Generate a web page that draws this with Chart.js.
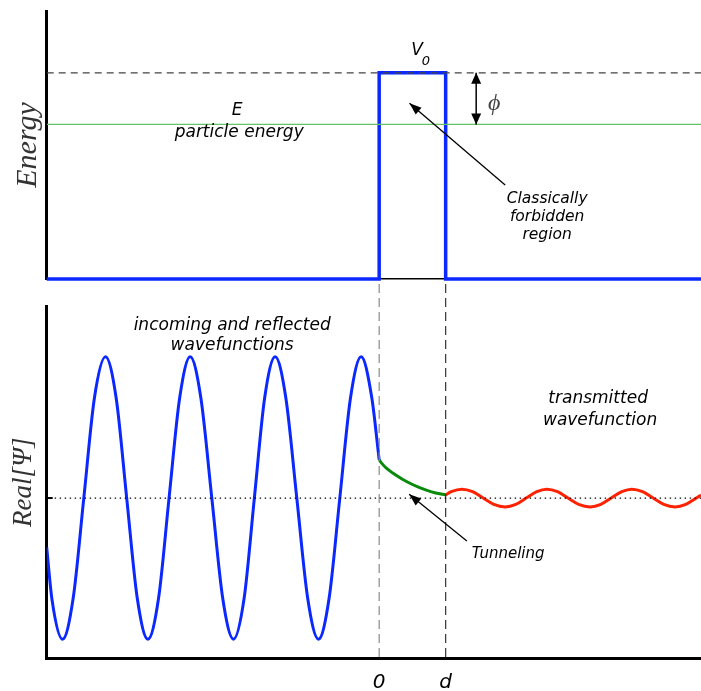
<!DOCTYPE html>
<html><head><meta charset="utf-8">
<script src="https://cdn.jsdelivr.net/npm/chart.js@4"></script>
<style>
html,body{margin:0;padding:0;background:#fff;width:701px;height:691px;overflow:hidden}
canvas{position:absolute;left:0}
#top{top:0}
#bot{top:282px}
</style></head><body>
<canvas id="top" width="701" height="282"></canvas>
<canvas id="bot" width="701" height="409"></canvas>
<script>
// ---------------- data ----------------
const xMin = -5, xMax = 4.84;
const barrierEdges = [0, 1];          // x = 0 and x = d
const tickLabels = ['0', 'd'];
const V0 = 1.0;                       // barrier height
const particleE = 0.75;               // particle energy
const potentialX = [-5, 0, 0, 1, 1, 4.84];
const potentialY = [0, 0, 1, 1, 0, 0];
const incomingX = [-5.0, -4.92, -4.762, -4.602, -4.442, -4.282, -4.116, -3.956, -3.797, -3.638, -3.478, -3.318, -3.160, -3.000, -2.842, -2.682, -2.517, -2.353, -2.191, -2.031, -1.877, -1.722, -1.564, -1.404, -1.239, -1.075, -0.913, -0.753, -0.592, -0.431, -0.271, -0.111, 0.0];
const incomingY = [-0.35, -0.72, -1.0, -0.71, 0.0, 0.71, 1.0, 0.71, 0.0, -0.71, -1.0, -0.71, 0.0, 0.71, 1.0, 0.71, 0.0, -0.71, -1.0, -0.71, 0.0, 0.71, 1.0, 0.71, 0.0, -0.71, -1.0, -0.71, 0.0, 0.71, 1.0, 0.71, 0.27];
const tunnelX = [0, 0.05, 0.1, 0.21, 0.35, 0.47, 0.6, 0.72, 0.85, 1.0];
const tunnelY = [0.27, 0.24, 0.215, 0.175, 0.133, 0.103, 0.075, 0.054, 0.036, 0.022];
const transX = [1.0, 1.084, 1.244, 1.404, 1.564, 1.724, 1.895, 2.055, 2.21, 2.37, 2.522, 2.682, 2.84, 3.0, 3.173, 3.333, 3.49, 3.65, 3.80, 3.96, 4.12, 4.28, 4.451, 4.611, 4.77, 4.84];
const transY = [0.022, 0.045, 0.063, 0.045, 0, -0.045, -0.063, -0.045, 0, 0.045, 0.063, 0.045, 0, -0.045, -0.063, -0.045, 0, 0.045, 0.063, 0.045, 0, -0.045, -0.063, -0.045, 0, 0.022];

// ---------------- helpers ----------------
const pts = (xs, ys) => xs.map((x, i) => ({x, y: ys[i]}));
const SANS = '"DejaVu Sans", sans-serif';
const SERIF = '"Liberation Serif", serif';

function arrowHead(ctx, fx, fy, tx, ty, L, W) {
  const a = Math.atan2(ty - fy, tx - fx);
  ctx.beginPath();
  ctx.moveTo(tx, ty);
  ctx.lineTo(tx - L * Math.cos(a) + W / 2 * Math.sin(a), ty - L * Math.sin(a) - W / 2 * Math.cos(a));
  ctx.lineTo(tx - L * Math.cos(a) - W / 2 * Math.sin(a), ty - L * Math.sin(a) + W / 2 * Math.cos(a));
  ctx.closePath();
  ctx.fill();
}

const annotPlugin = {
  id: 'annot',
  afterDatasetsDraw(chart, args, opts) {
    const ctx = chart.ctx, xs = chart.scales.x, ys = chart.scales.y;
    const X = v => xs.getPixelForValue(v), Y = v => ys.getPixelForValue(v);
    const area = chart.chartArea;
    ctx.save();
    (opts.items || []).forEach(it => {
      if (it.type === 'text') {
        ctx.font = it.font; ctx.fillStyle = it.color || '#000';
        ctx.textAlign = it.align || 'center'; ctx.textBaseline = it.baseline || 'alphabetic';
        ctx.fillText(it.text, X(it.x), Y(it.y));
      } else if (it.type === 'arrow') {
        const fx = X(it.from[0]), fy = Y(it.from[1]), tx = X(it.to[0]), ty = Y(it.to[1]);
        ctx.strokeStyle = '#000'; ctx.fillStyle = '#000'; ctx.lineWidth = it.width || 1.3; ctx.setLineDash([]);
        ctx.beginPath(); ctx.moveTo(fx, fy); ctx.lineTo(tx, ty); ctx.stroke();
        arrowHead(ctx, fx, fy, tx, ty, it.L || 12, it.W || 9);
        if (it.both) arrowHead(ctx, tx, ty, fx, fy, it.L || 12, it.W || 9);
      } else if (it.type === 'vline') {
        ctx.strokeStyle = it.color; ctx.lineWidth = 1.2; ctx.setLineDash(it.dash || [9, 5]);
        ctx.beginPath(); ctx.moveTo(X(it.x), it.top); ctx.lineTo(X(it.x), area.bottom); ctx.stroke();
      } else if (it.type === 'hdots') {
        ctx.strokeStyle = '#000'; ctx.lineWidth = 1.2; ctx.setLineDash([1.4, 3.6]);
        ctx.beginPath(); ctx.moveTo(area.left + 8, Y(it.y)); ctx.lineTo(area.right, Y(it.y)); ctx.stroke();
        ctx.setLineDash([]); ctx.lineWidth = 2;
        ctx.beginPath(); ctx.moveTo(area.left, Y(it.y)); ctx.lineTo(area.left + 6, Y(it.y)); ctx.stroke();
      }
    });
    ctx.restore();
  }
};

const baseX = (extra) => Object.assign({
  type: 'linear', min: xMin, max: xMax,
  grid: {display: false, drawTicks: false},
  ticks: {display: false},
  border: {display: false}
}, extra);

// ---------------- top chart: potential ----------------
new Chart(document.getElementById('top'), {
  type: 'line',
  data: {
    datasets: [
      {data: pts([xMin, xMax], [V0, V0]), borderColor: '#444', borderWidth: 1.2, borderDash: [7, 5], pointRadius: 0},
      {data: pts([xMin, xMax], [particleE, particleE]), borderColor: '#66c266', borderWidth: 1.2, pointRadius: 0},
      {data: pts(potentialX, potentialY), borderColor: '#0a28ff', borderWidth: 3.5, pointRadius: 0, tension: 0, clip: false}
    ]
  },
  options: {
    responsive: false, animation: false, devicePixelRatio: 1,
    layout: {padding: {top: 11, bottom: 3, left: 0, right: 0}},
    plugins: {
      legend: {display: false}, tooltip: {enabled: false},
      annot: {items: [
        {type: 'text', text: 'V', x: 0.571, y: 1.087, font: 'italic 17px ' + SANS},
        {type: 'text', text: '0', x: 0.639, y: 1.038, align: 'left', font: 'italic 13px ' + SANS},
        {type: 'text', text: 'E', x: -2.135, y: 0.796, font: 'italic 17px ' + SANS},
        {type: 'text', text: 'particle energy', x: -2.105, y: 0.689, font: 'italic 17px ' + SANS},
        {type: 'text', text: 'ϕ', x: 1.73, y: 0.849, baseline: 'middle', color: '#444', font: 'italic 24px ' + SERIF},
        {type: 'arrow', from: [1.459, particleE], to: [1.459, V0], both: true, L: 11, W: 10, width: 1.5},
        {type: 'arrow', from: [1.895, 0.456], to: [0.456, 0.852], L: 12, W: 9},
        {type: 'text', text: 'Classically', x: 2.526, y: 0.369, font: 'italic 15.5px ' + SANS},
        {type: 'text', text: 'forbidden', x: 2.526, y: 0.281, font: 'italic 15.5px ' + SANS},
        {type: 'text', text: 'region', x: 2.526, y: 0.194, font: 'italic 15.5px ' + SANS}
      ]}
    },
    scales: {
      x: baseX({display: true, border: {display: true, color: '#000', width: 1.5}, afterFit: s => { s.height = 0; }}),
      y: {
        type: 'linear', min: 0, max: 1.3,
        grid: {display: false, drawTicks: false},
        ticks: {display: false},
        border: {display: true, color: '#000', width: 3},
        title: {display: true, text: 'Energy', color: '#333', padding: {top: 10, bottom: 0},
                font: {family: 'Liberation Serif', style: 'italic', size: 30}},
        afterFit: s => { s.width = 46.7; }
      }
    }
  },
  plugins: [annotPlugin]
});

// ---------------- bottom chart: wavefunction ----------------
new Chart(document.getElementById('bot'), {
  type: 'line',
  data: {
    datasets: [
      {data: pts(incomingX, incomingY), borderColor: '#0a28ff', borderWidth: 3, pointRadius: 0, cubicInterpolationMode: 'monotone'},
      {data: pts(tunnelX, tunnelY), borderColor: '#0a8a0a', borderWidth: 3, pointRadius: 0, cubicInterpolationMode: 'monotone'},
      {data: pts(transX, transY), borderColor: '#ff2200', borderWidth: 3, pointRadius: 0, cubicInterpolationMode: 'monotone'}
    ]
  },
  options: {
    responsive: false, animation: false, devicePixelRatio: 1,
    layout: {padding: {top: 24, bottom: 0, left: 0, right: 0}},
    plugins: {
      legend: {display: false}, tooltip: {enabled: false},
      annot: {items: [
        {type: 'vline', x: barrierEdges[0], top: 2, color: '#8a8a8a'},
        {type: 'vline', x: barrierEdges[1], top: 2, color: '#333'},
        {type: 'hdots', y: 0},
        {type: 'text', text: 'incoming and reflected', x: -2.211, y: 1.188, font: 'italic 17px ' + SANS},
        {type: 'text', text: 'wavefunctions', x: -2.211, y: 1.046, font: 'italic 17px ' + SANS},
        {type: 'text', text: 'transmitted', x: 3.293, y: 0.671, font: 'italic 17px ' + SANS},
        {type: 'text', text: 'wavefunction', x: 3.323, y: 0.515, font: 'italic 17px ' + SANS},
        {type: 'text', text: 'Tunneling', x: 1.94, y: -0.427, font: 'italic 15px ' + SANS},
        {type: 'arrow', from: [1.319, -0.305], to: [0.451, 0.026], L: 12, W: 9}
      ]}
    },
    scales: {
      x: baseX({
        display: true,
        border: {display: true, color: '#000', width: 3},
        ticks: {display: true, padding: 12, color: '#000', autoSkip: false, maxRotation: 0,
                font: {family: 'DejaVu Sans', style: 'italic', size: 20},
                callback: (v, i) => tickLabels[i]},
        afterBuildTicks: s => { s.ticks = barrierEdges.map(v => ({value: v})); },
        afterFit: s => { s.height = 32.7; }
      }),
      y: {
        type: 'linear', min: -1.135, max: 1.36,
        grid: {display: false, drawTicks: false},
        ticks: {display: false},
        border: {display: true, color: '#000', width: 3},
        title: {display: true, text: 'Real[Ψ]', color: '#333', padding: {top: 8, bottom: 0},
                font: {family: 'Liberation Serif', style: 'italic', size: 27}},
        afterFit: s => { s.width = 46.7; }
      }
    }
  },
  plugins: [annotPlugin]
});
</script>
</body></html>
